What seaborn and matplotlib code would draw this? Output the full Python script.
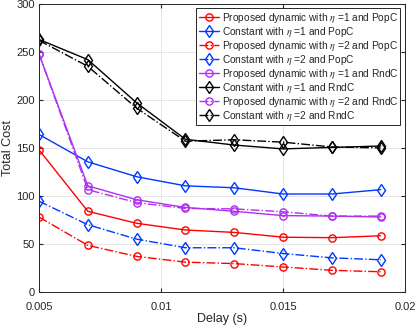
import matplotlib

matplotlib.use('Agg')
import matplotlib.pyplot as plt
import numpy as np
import pandas as pd
import seaborn as sns

delay = [0.005, 0.007, 0.009, 0.011, 0.013, 0.015, 0.017, 0.019]

prop_e1_pop = [148, 84, 71.5, 64.5, 62, 57, 56.5, 58.5]
const_e1_pop = [164, 135.5, 120, 110.5, 108.5, 102, 102, 106.5]
prop_e2_pop = [78, 48.5, 37, 31, 29.5, 26, 22.5, 21]
const_e2_pop = [94.5, 70, 55, 46, 46, 40, 35.5, 33.5]
prop_e1_rnd = [248, 110.5, 96, 88, 84, 79.5, 79, 78]
const_e1_rnd = [263, 242, 197, 159, 153, 149, 150.5, 152]
prop_e2_rnd = [248, 106.5, 93, 87, 86.5, 83.5, 79, 79]
const_e2_rnd = [262, 235, 191.5, 157, 158.5, 156, 151, 150]

labels = [
    r'Proposed dynamic with $\eta$ =1 and PopC',
    r'Constant with $\eta$ =1 and PopC',
    r'Proposed dynamic with $\eta$ =2 and PopC',
    r'Constant with $\eta$ =2 and PopC',
    r'Proposed dynamic with $\eta$ =1 and RndC',
    r'Constant with $\eta$ =1 and RndC',
    r'Proposed dynamic with $\eta$ =2 and RndC',
    r'Constant with $\eta$ =2 and RndC',
]
series = [prop_e1_pop, const_e1_pop, prop_e2_pop, const_e2_pop,
          prop_e1_rnd, const_e1_rnd, prop_e2_rnd, const_e2_rnd]

red, blue, purple = '#ff0000', '#0038ff', '#b030f0'
styles = [
    (red, '-', 'o'), (blue, '-', 'd'), (red, '-.', 'o'), (blue, '-.', 'd'),
    (purple, '-', 'o'), ('k', '-', 'd'), (purple, '-.', 'o'), ('k', '-.', 'd'),
]

df = pd.concat([pd.DataFrame({'delay': delay, 'cost': v, 'name': lab})
                for lab, v in zip(labels, series)], ignore_index=True)

sns.set_style('ticks')
plt.rcParams['font.family'] = ['Liberation Sans', 'DejaVu Sans']
plt.rcParams['mathtext.fontset'] = 'stix'

fig, ax = plt.subplots(figsize=(4.15, 3.28), dpi=100)
fig.subplots_adjust(left=0.094, right=0.976, top=0.988, bottom=0.11)

for lab, (c, ls, m) in zip(labels, styles):
    sns.lineplot(data=df[df['name'] == lab], x='delay', y='cost', ax=ax,
                 color=c, linestyle=ls, marker=m,
                 markersize=5.2 if m == 'o' else 6.2,
                 markerfacecolor='none', markeredgecolor=c, markeredgewidth=1.0,
                 linewidth=1.0, label=lab)

ax.set_xlim(0.005, 0.02)
ax.set_ylim(0, 300)
ax.set_xticks([0.005, 0.01, 0.015, 0.02])
ax.set_xticklabels(['0.005', '0.01', '0.015', '0.02'])
ax.set_yticks(np.arange(0, 301, 50))
ax.grid(True, color='#e6e6e6', linewidth=0.7)
ax.set_axisbelow(True)
for s in ax.spines.values():
    s.set_color('#262626')
    s.set_linewidth(0.7)
ax.tick_params(direction='in', length=3, labelsize=8, colors='#262626', top=True, right=True)
ax.tick_params(axis='x', pad=7)
ax.tick_params(axis='y', pad=3)
ax.set_xlabel('Delay (s)', fontsize=9, color='#262626', labelpad=1)
ax.set_ylabel('Total Cost', fontsize=9, color='#262626', labelpad=2)

leg = ax.legend(loc='upper right', fontsize=7.3, frameon=True, fancybox=False,
                edgecolor='#262626', framealpha=1, borderpad=0.2, labelspacing=0.0,
                handlelength=2.0, handletextpad=0.3, borderaxespad=0.45)
leg.get_frame().set_linewidth(0.7)

fig.savefig('out.png', dpi=100)
